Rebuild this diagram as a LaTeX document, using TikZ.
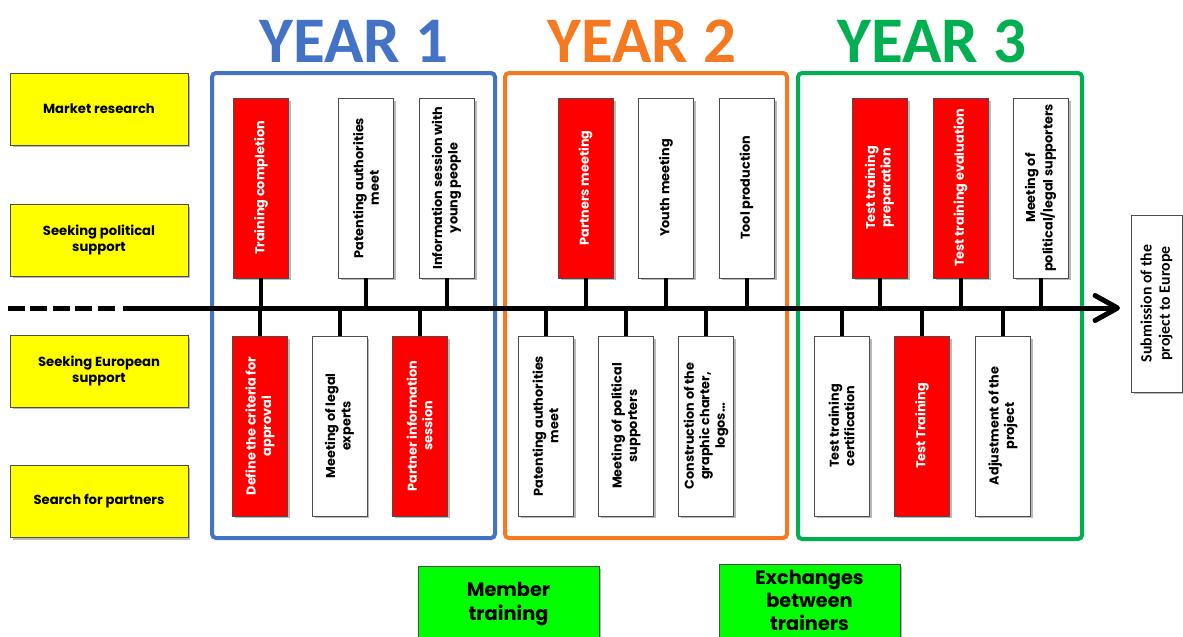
\documentclass[tikz,border=0pt]{standalone}
\usepackage{fontspec}
\setmainfont{Poppins}
\newfontfamily\calibfont{Carlito}
\usetikzlibrary{shadows,arrows.meta}

\definecolor{yearblue}{HTML}{4472C4}
\definecolor{yearorange}{HTML}{F47920}
\definecolor{yeargreen}{HTML}{00B050}
\definecolor{taskred}{HTML}{FF0000}
\definecolor{topicyellow}{HTML}{FFFF00}
\definecolor{notegreen}{HTML}{00FF00}

\tikzset{
  shade box/.style={drop shadow={shadow xshift=0.05cm, shadow yshift=-0.05cm, fill=black!50, opacity=0.55}},
  topic/.style={draw=black!70, line width=0.5pt, fill=topicyellow, shade box, minimum width=3.56cm, minimum height=1.44cm, align=center, font=\bfseries\fontsize{7.5}{9.5}\selectfont},
  task/.style={draw=black!70, line width=0.5pt, shade box, rotate=90, minimum width=3.6cm, minimum height=1.1cm, inner sep=1pt, align=center, font=\bfseries\fontsize{7.3}{8.8}\selectfont},
  note/.style={draw=black!70, line width=0.5pt, fill=notegreen, shade box, minimum width=3.62cm, align=center, font=\bfseries\fontsize{11}{13.2}\selectfont},
  year frame/.style={line width=0.08cm, rounded corners=0.08cm},
  year title/.style={anchor=base, font=\calibfont\bfseries\fontsize{37}{40}\selectfont},
  stem/.style={line width=0.08cm},
  axis/.style={line width=0.1cm},
}

\begin{document}
\begin{tikzpicture}[x=0.02cm,y=-0.02cm]
\clip (0,0) rectangle (1183,636);
\fill[white] (0,0) rectangle (1183,636);

% topics on the left
\foreach \n/\y/\txt in {market/109/{Market research}, political/240/{Seeking political\\support}, european/371/{Seeking European\\support}, partners/501/{Search for partners}}
  \node[topic] (\n) at (99,\y) {\txt};

% the three years
\draw[year frame, draw=yearblue] (212,73) rectangle (495,538);
\draw[year frame, draw=yearorange] (505,73) rectangle (787,538);
\draw[year frame, draw=yeargreen] (798,73) rectangle (1082,539);
\node[year title, text=yearblue] (year1) at (354,62) {YEAR 1};
\node[year title, text=yearorange] (year2) at (642,62) {YEAR 2};
\node[year title, text=yeargreen] (year3) at (932,62) {YEAR 3};

% time line
\coordinate (start) at (8,308);
\coordinate (dashend) at (117,308);
\coordinate (tl) at (123,308);
\coordinate (tr) at (1120,308);
\draw[axis, dash pattern=on 0.34cm off 0.11cm] (start) -- (dashend);
\draw[axis, -{Straight Barb[length=0.45cm, width=0.5cm, round]}] (tl) -- (tr);

% tasks above the line
\foreach \n/\x/\f/\c/\txt in {
  u11/261/taskred/white/{Training completion},
  u12/366/white/black/{Patenting authorities\\meet},
  u13/446.5/white/black/{Information session with\\young people},
  u21/585.5/taskred/white/{Partners meeting},
  u22/666/white/black/{Youth meeting},
  u23/746.5/white/black/{Tool production},
  u31/879.5/taskred/white/{Test training\\preparation},
  u32/960.5/taskred/white/{Test training evaluation},
  u33/1040.5/white/black/{Meeting of\\political/legal supporters}}
  \node[task, fill=\f, text=\c] (\n) at (\x,188) {\txt};

% tasks below the line
\foreach \n/\x/\f/\c/\txt in {
  l11/260/taskred/white/{Define the criteria for\\approval},
  l12/339.5/white/black/{Meeting of legal\\experts},
  l13/419.5/taskred/white/{Partner information\\session},
  l21/545.5/white/black/{Patenting authorities\\meet},
  l22/626/white/black/{Meeting of political\\supporters},
  l23/706/white/black/{Construction of the\\graphic charter,\\logos…},
  l31/841.5/white/black/{Test training\\certification},
  l32/922/taskred/white/{Test Training},
  l33/1003/white/black/{Adjustment of the\\project}}
  \node[task, fill=\f, text=\c] (\n) at (\x,426) {\txt};

% stems to the line
\foreach \n in {u11,u12,u13,u21,u22,u23,u31,u32,u33}
  \draw[stem] (\n.west) -- (\n.west |- tl);
\foreach \n in {l11,l12,l13,l21,l22,l23,l31,l32,l33}
  \draw[stem] (\n.east) -- (\n.east |- tl);

% end of the line
\node[task, fill=white, minimum width=3.54cm, minimum height=1.02cm, font=\calibfont\bfseries\fontsize{9}{10.5}\selectfont] (submit) at (1156.5,303.5) {Submission of the\\project to Europe};

% notes at the bottom
\node[note, anchor=north, minimum height=1.5cm] (member) at (508.5,566) {Member\\training};
\node[note, anchor=north, minimum height=1.44cm] (exchange) at (809.5,564) {Exchanges\\between\\trainers};
\end{tikzpicture}
\end{document}
